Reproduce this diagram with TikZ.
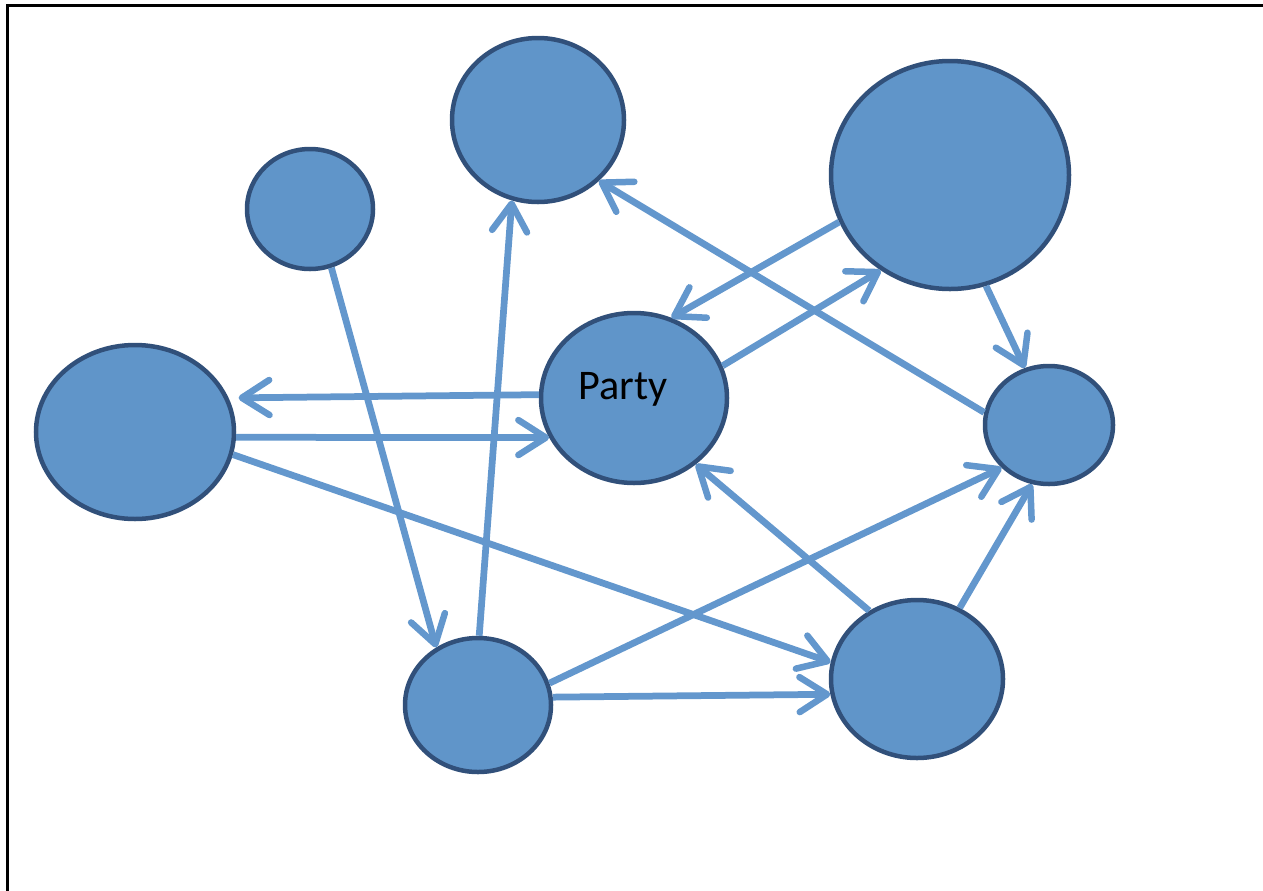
\documentclass[tikz,border=0pt]{standalone}
\usepackage{fontspec}
\setsansfont{Carlito}
\usepackage{tikz}
\usetikzlibrary{arrows.meta,shapes.geometric}

\definecolor{blobfill}{HTML}{6095C9}
\definecolor{blobline}{HTML}{31507A}
\definecolor{linkblue}{HTML}{6397CD}

\begin{document}
\begin{tikzpicture}[x=0.2mm,y=-0.2mm,->,>={Straight Barb[length=5.5mm,width=7mm,line width=1.3mm,round]},
    blob/.style={ellipse,draw=blobline,fill=blobfill,line width=0.9mm,inner sep=0pt},
    every edge/.style={draw=linkblue,line width=1.35mm}]
  \useasboundingbox (0,0) rectangle (1263,890);
  \draw[-,line width=0.6mm] (7,900) -- (7,5) -- (1270,5);
  \node[blob,minimum width=25.2mm,minimum height=24mm] (tl) at (310,209) {};
  \node[blob,minimum width=34.4mm,minimum height=32.8mm] (tm) at (538,120) {};
  \node[blob,minimum width=47.6mm,minimum height=45.6mm] (tr) at (950,175) {};
  \node[blob,minimum width=39.6mm,minimum height=34.8mm] (left) at (135,432) {};
  \node[blob,minimum width=37.2mm,minimum height=34mm] (party) at (634,398) {};
  \node[blob,minimum width=25.6mm,minimum height=23.6mm] (rs) at (1049,425) {};
  \node[blob,minimum width=29.2mm,minimum height=26.8mm] (bm) at (478,705) {};
  \node[blob,minimum width=34.4mm,minimum height=31.6mm] (br) at (917,679) {};
  \node[font=\sffamily\fontsize{24}{28}\selectfont] (partytext) at (623,389) {Party};
  \path (party.178) edge[shorten >=2mm] (left.20)
  (left.-3) edge (party.205)
  (left.-13) edge (br.169)
  (tl.-70) edge (bm.126)
  (bm.89) edge (tm.-108)
  (bm.17) edge (rs.222)
  (bm.6) edge (br.190)
  (br.125) edge (party.-47)
  (br.59) edge (rs.254)
  (rs.169) edge (tm.-45)
  (tr.203) edge (party.65)
  (party.20) edge (tr.234)
  (tr.-72) edge (rs.113);
\end{tikzpicture}
\end{document}
